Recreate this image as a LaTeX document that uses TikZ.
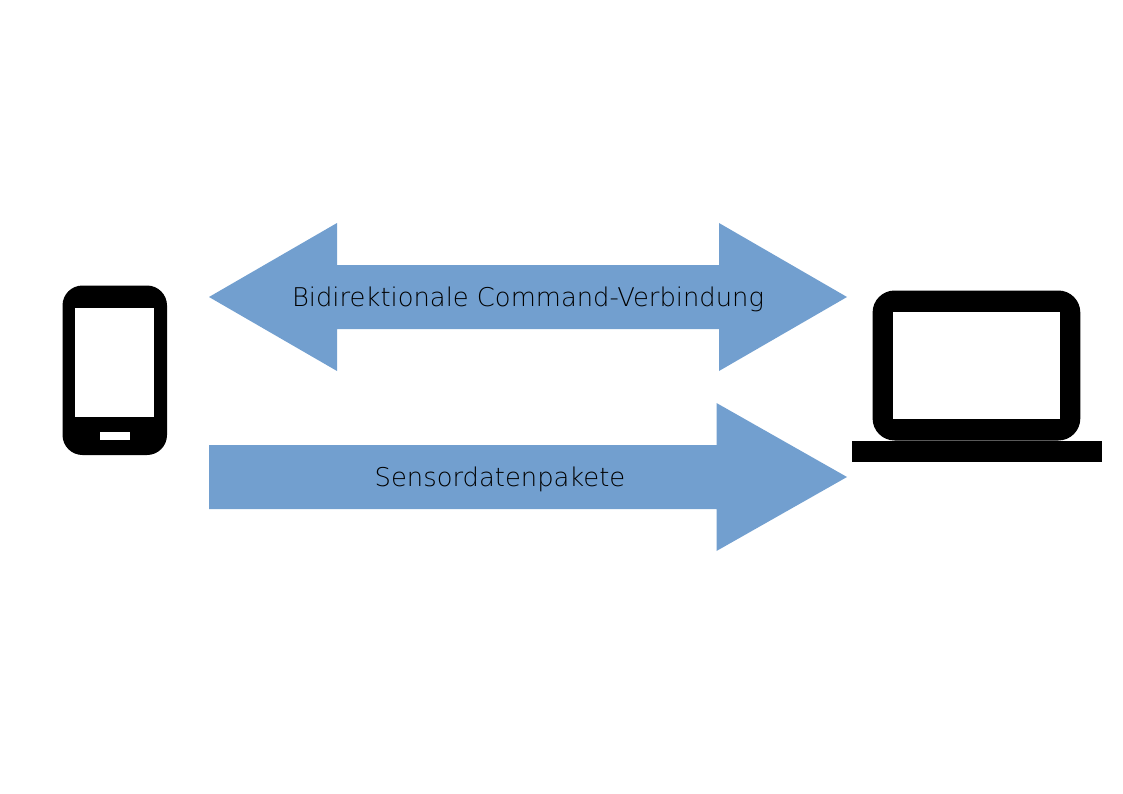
\documentclass[tikz,border=0pt]{standalone}
\usepackage{fontspec}
\newfontfamily\labelfont{DejaVu Sans ExtraLight}
\definecolor{arrowblue}{HTML}{729FCF}
\tikzset{
  flow/.style={fill=arrowblue},
  icon/.style={fill=black},
  cutout/.style={fill=white},
  flowlabel/.style={font=\labelfont\fontsize{25.8}{30}\selectfont, text=black}
}

\begin{document}
\begin{tikzpicture}[x=1pt,y=-1pt]
  \useasboundingbox (0,0) rectangle (1123,794);
  % arrows
  \fill [flow] (209,297) -- (337,223) -- (337,265) -- (719,265) -- (719,223) -- (847,297)
    -- (719,371) -- (719,329) -- (337,329) -- (337,371) -- cycle;
  \fill [flow] (209,445) -- (716.5,445) -- (716.5,403) -- (847,477) -- (716.5,551)
    -- (716.5,509) -- (209,509) -- cycle;
  \node [flowlabel] (command) at (528,299) {Bidirektionale Command-Verbindung};
  \node [flowlabel] (sensor) at (500,479) {Sensordatenpakete};
  % phone
  \fill [icon, rounded corners=20] (62.5,285.5) rectangle (167,455);
  \fill [cutout] (75.3,308) rectangle (154.3,416.7);
  \fill [cutout] (99.6,432.3) rectangle (130,440);
  % laptop
  \fill [icon, rounded corners=22] (872.6,290.5) rectangle (1080.3,440.5);
  \fill [cutout] (893,311.7) rectangle (1060,419.3);
  \fill [icon] (851.6,441) rectangle (1102,462);
\end{tikzpicture}
\end{document}
